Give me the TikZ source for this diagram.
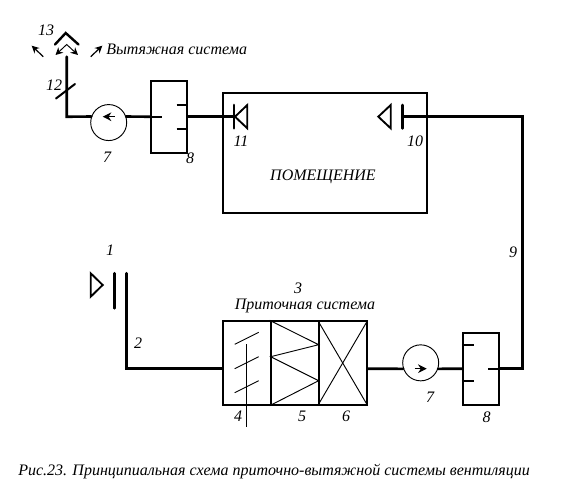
\documentclass[tikz,border=0pt]{standalone}
\usepackage{fontspec}
\setmainfont{Liberation Serif}
\usetikzlibrary{arrows.meta, calc}
\tikzset{
  duct/.style={line width=2pt, line cap=round},
  wall/.style={line width=1.4pt},
  thinline/.style={line width=0.7pt},
  section/.style={rectangle, draw=black, wall, minimum width=36pt, minimum height=62.5pt, inner sep=0pt},
  fan/.style={circle, draw=black, thinline, minimum size=27pt, inner sep=0pt},
  filterbox/.style={rectangle, draw=black, wall, minimum width=27pt, minimum height=54pt, inner sep=0pt},
  room/.style={rectangle, draw=black, wall, minimum width=153pt, minimum height=90pt, inner sep=0pt},
  num/.style={inner sep=0pt, font=\itshape\fontsize{12}{14}\selectfont},
  arrow/.style={line width=0.9pt, -{Stealth[length=5.5pt,width=5.5pt]}},
  fanarrow/.style={line width=0.9pt, -{Stealth[length=6.5pt,width=6.5pt]}}
}
\begin{document}
\begin{tikzpicture}[x=0.75pt, y=-0.75pt]
        \useasboundingbox (0,0) rectangle (572,486);
        % --- Main nodes ---
        \node (pomeshchenie) [room] at (324.7,153) {};
        \node (filterA) [filterbox] at (168.7,116.7) {};
        \node (fanA) [fan] at (108.7,122.56) {};
        \node (sec4) [section] at (246.7,363) {};
        \node (sec5) [section] at (294.7,363) {};
        \node (sec6) [section] at (342.7,363) {};
        \node (fanB) [fan] at (420.7,362.84) {};
        \node (filterB) [filterbox] at (480.7,368.7) {};

        % --- Free ends of the ducts ---
        \coordinate (hoodfoot) at (66.7,56.7);
        \coordinate (cornerA) at (66.7,116.7);
        \coordinate (dmpXI) at (234,116.7);
        \coordinate (dmpX) at (402.7,116.7);
        \coordinate (cornerC) at (522.7,116.7);
        \coordinate (cornerD) at (522.7,368.7);
        \coordinate (inlet) at (126.7,273.3);
        \coordinate (cornerE) at (126.7,368.7);

        % --- Exhaust duct ---
        \draw [duct] (hoodfoot) -- (cornerA) -- (fanA.161);
        \draw [duct] (fanA.19) -- (filterA.west);
        \draw [duct] (filterA.east) -- (dmpXI);
        % --- Supply duct ---
        \draw [duct] (inlet) -- (cornerE) -- (sec4.west |- cornerE);
        \draw [duct] (sec6.east |- cornerD) -- (fanB.199);
        \draw [duct] (fanB.341) -- (filterB.west);
        \draw [duct] (filterB.east) -- (cornerD) -- (cornerC) -- (dmpX);

        % --- Hood 13 and valve 12 ---
        \draw [duct, line width=1.8pt] (55,44.5) -- (65.7,33) -- (78.5,44.5);
        \draw [thinline, {Stealth[length=5.5pt,width=5.5pt]}-{Stealth[length=5.5pt,width=5.5pt]}] (55.5,55) -- (66.7,44.5) -- (78,55);
        \draw [arrow] (43.3,56.7) -- (31.7,45.7);
        \draw [arrow] (90.7,56.7) -- (102.3,45.7);
        \draw [duct, line width=1.5pt] (56,98.5) -- (75,84);

        % --- Dampers 11, 10 and 1 ---
        \draw [duct] (234,105) -- (234,128.3);
        \draw [wall] (235,116.7) -- (247.3,105) -- (247.3,128.3) -- cycle;
        \draw [duct] (dmpX) ++(0,-11.7) -- ++(0,23.4);
        \draw [wall] (378.3,116.7) -- (390.7,105) -- (390.7,128.3) -- cycle;
        \draw [wall] (90.7,273.3) -- (102.7,285) -- (90.7,296.7) -- cycle;
        \draw [duct] (114.3,273.3) -- (114.3,308.3);

        % --- Stubs inside the filters ---
        \draw [wall] (filterA.west) -- ++(12,0);
        \draw [wall] (filterA.east) ++(-11,-12) -- ++(11,0);
        \draw [wall] (filterA.east) ++(-11,12) -- ++(11,0);
        \draw [wall] (filterB.east) -- ++(-12,0);
        \draw [wall] (filterB.west) ++(0,-24) -- ++(12,0);
        \draw [wall] (filterB.west) ++(0,12.3) -- ++(12,0);

        % --- Fan arrows ---
        \draw [fanarrow] (fanA.center |- cornerA) ++(6,0) -- ++(-12,0);
        \draw [fanarrow] (fanB.center |- cornerD) ++(-6,0) -- ++(12,0);

        % --- Section contents ---
        \foreach \yy in {344.3,368.7,392.7} {
            \draw [thinline] (234.7,\yy) -- (258.7,\yy-12);
        }
        \draw [thinline] (246.7,344.3) -- (246.7,427.3);
        \draw [thinline] (sec5.north west) -- (318.7,344.7) -- (270.7,356.7) -- (318.7,380.7) -- (sec5.south west);
        \draw [thinline] (sec6.north west) -- (sec6.south east);
        \draw [thinline] (sec6.north east) -- (sec6.south west);

        % --- Labels ---
        \node (n13) [num] at (46,30) {13};
        \node (vytyazh) [num, anchor=west] at (106,49) {Вытяжная система};
        \node (n12) [num] at (54,85) {12};
        \node (n7a) [num] at (107,157) {7};
        \node (n8a) [num] at (190,158) {8};
        \node (n11) [num] at (241,141) {11};
        \node (n10) [num] at (415,141) {10};
        \node (roomlabel) [num] at (323,177) {ПОМЕЩЕНИЕ};
        \node (n9) [num] at (513,252) {9};
        \node (n1) [num] at (110,250) {1};
        \node (n2) [num] at (138,343) {2};
        \node (n3) [num] at (298,288) {3};
        \node (pritok) [num] at (305,306) {Приточная система};
        \node (n4) [num] at (238,416) {4};
        \node (n5) [num] at (302,416) {5};
        \node (n6) [num] at (346,416) {6};
        \node (n7b) [num] at (430,397) {7};
        \node (n8b) [num] at (486.7,417) {8};
        \node (caption) [num, anchor=west] at (18,472) {Рис.23. Принципиальная схема приточно-вытяжной системы вентиляции};
\end{tikzpicture}
\end{document}
